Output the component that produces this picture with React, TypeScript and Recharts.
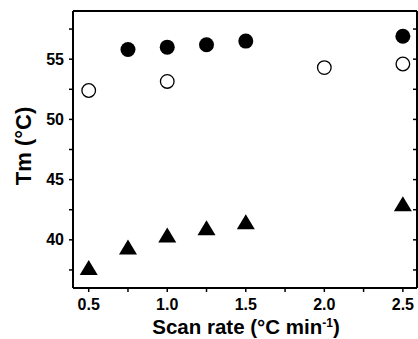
import React from "react";
import { ScatterChart, Scatter, XAxis, YAxis, Label } from "recharts";

// scan rate (°C/min) and Tm (°C) for the three series
const filledRate = [0.75, 1.0, 1.25, 1.5, 2.5];
const filledTm = [55.8, 56.0, 56.2, 56.5, 56.9];
const openRate = [0.5, 1.0, 2.0, 2.5];
const openTm = [52.4, 53.15, 54.3, 54.6];
const triRate = [0.5, 0.75, 1.0, 1.25, 1.5, 2.5];
const triTm = [37.7, 39.4, 40.4, 41.0, 41.5, 43.0];

const xTicks = [0.5, 0.75, 1.0, 1.25, 1.5, 1.75, 2.0, 2.25, 2.5];
const xLabels = [0.5, 1.0, 1.5, 2.0, 2.5];
const yTicks = [37.5, 40, 42.5, 45, 47.5, 50, 52.5, 55, 57.5];
const yLabels = [40, 45, 50, 55];

const toPoints = (xs: number[], ys: number[]) => xs.map((x, i) => ({ x, y: ys[i] }));
const filled = toPoints(filledRate, filledTm);
const open = toPoints(openRate, openTm);
const tri = toPoints(triRate, triTm);

const FONT = "'Liberation Sans', Arial, sans-serif";
const TICK = 4;

const BottomTick = ({ x, y, payload }: any) => {
  const major = xLabels.includes(payload.value);
  return (
    <g>
      <line x1={x} x2={x} y1={y} y2={y + TICK} stroke="#000" strokeWidth={1.5} />
      {major && (
        <text x={x} y={y + 22} textAnchor="middle" fontFamily={FONT} fontWeight="bold" fontSize={16} fill="#000">
          {payload.value.toFixed(1)}
        </text>
      )}
    </g>
  );
};

const TopTick = ({ x, y }: any) => (
  <line x1={x} x2={x} y1={y} y2={y + TICK} stroke="#000" strokeWidth={1.5} />
);

const LeftTick = ({ x, y, payload }: any) => {
  const major = yLabels.includes(payload.value);
  return (
    <g>
      <line x1={x - TICK} x2={x} y1={y} y2={y} stroke="#000" strokeWidth={1.5} />
      {major && (
        <text x={x - 9} y={y + 5.5} textAnchor="end" fontFamily={FONT} fontWeight="bold" fontSize={16} fill="#000">
          {payload.value}
        </text>
      )}
    </g>
  );
};

const RightTick = ({ x, y }: any) => (
  <line x1={x - TICK} x2={x} y1={y} y2={y} stroke="#000" strokeWidth={1.5} />
);

const xTitle = () => (
  <text x={246} y={334} textAnchor="middle" fontFamily={FONT} fontWeight="bold" fontSize={20.5} fill="#000">
    Scan rate (°C min
    <tspan dy={-7} fontSize={12}>-1</tspan>
    <tspan dy={7}>)</tspan>
  </text>
);

const yTitle = () => (
  <text
    x={31}
    y={146}
    transform="rotate(-90, 31, 146)"
    textAnchor="middle"
    fontFamily={FONT}
    fontWeight="bold"
    fontSize={22}
    fill="#000"
  >
    Tm (°C)
  </text>
);

const Dot = ({ cx, cy }: any) => <circle cx={cx} cy={cy} r={7.5} fill="#000" />;
const Ring = ({ cx, cy }: any) => <circle cx={cx} cy={cy} r={6.8} fill="#fff" stroke="#000" strokeWidth={1.3} />;
const Tri = ({ cx, cy }: any) => (
  <polygon points={`${cx},${cy - 7.5} ${cx + 9},${cy + 7.5} ${cx - 9},${cy + 7.5}`} fill="#000" />
);

export default function App() {
  return (
    <div>
      <style>{"body{margin:0;background:#fff}"}</style>
      <ScatterChart width={418} height={339} margin={{ top: 0, right: 0, bottom: 0, left: 0 }}>
        <XAxis
          xAxisId="b"
          dataKey="x"
          type="number"
          domain={[0.4, 2.59]}
          ticks={xTicks}
          interval={0}
          height={51}
          tickSize={0}
          tickMargin={0}
          tickLine={false}
          tick={<BottomTick />}
          axisLine={{ stroke: "#000", strokeWidth: 2 }}
          allowDataOverflow
        >
          <Label content={xTitle} />
        </XAxis>
        <XAxis
          xAxisId="t"
          orientation="top"
          type="number"
          domain={[0.4, 2.59]}
          ticks={xTicks}
          interval={0}
          height={11}
          tickSize={0}
          tickMargin={0}
          tickLine={false}
          tick={<TopTick />}
          axisLine={{ stroke: "#000", strokeWidth: 2 }}
          allowDataOverflow
        />
        <YAxis
          yAxisId="l"
          dataKey="y"
          type="number"
          domain={[36, 59]}
          ticks={yTicks}
          interval={0}
          width={73}
          tickSize={0}
          tickMargin={0}
          tickLine={false}
          tick={<LeftTick />}
          axisLine={{ stroke: "#000", strokeWidth: 2 }}
          allowDataOverflow
        >
          <Label content={yTitle} />
        </YAxis>
        <YAxis
          yAxisId="r"
          orientation="right"
          type="number"
          domain={[36, 59]}
          ticks={yTicks}
          interval={0}
          width={1}
          tickSize={0}
          tickMargin={0}
          tickLine={false}
          tick={<RightTick />}
          axisLine={{ stroke: "#000", strokeWidth: 2 }}
          allowDataOverflow
        />
        <Scatter xAxisId="b" yAxisId="l" data={filled} shape={<Dot />} isAnimationActive={false} />
        <Scatter xAxisId="b" yAxisId="l" data={open} shape={<Ring />} isAnimationActive={false} />
        <Scatter xAxisId="b" yAxisId="l" data={tri} shape={<Tri />} isAnimationActive={false} />
      </ScatterChart>
    </div>
  );
}
